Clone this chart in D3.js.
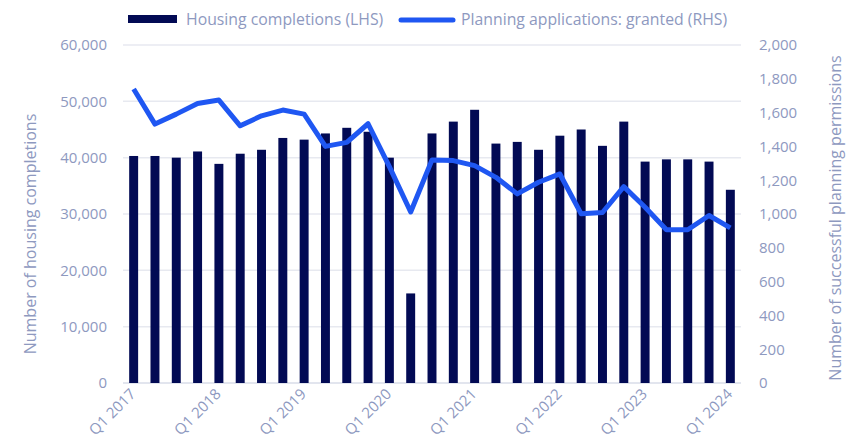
<!DOCTYPE html>
<html>
<head>
<meta charset="utf-8">
<script src="https://cdn.jsdelivr.net/npm/d3@7"></script>
<style>
  body { margin: 0; background: #fff; }
  text { font-family: "Open Sans", sans-serif; fill: #8e99bf; }
</style>
</head>
<body>
<div class="chart"></div>
<script>
var svgWidth = 850;
var svgHeight = 446;

var margin = { top: 45, right: 109, bottom: 63, left: 123 };
var width = svgWidth - margin.left - margin.right;
var height = svgHeight - margin.top - margin.bottom;

// quarters Q1 2017 .. Q1 2024
var quarters = [
    "Q1 2017", "Q2 2017", "Q3 2017", "Q4 2017",
    "Q1 2018", "Q2 2018", "Q3 2018", "Q4 2018",
    "Q1 2019", "Q2 2019", "Q3 2019", "Q4 2019",
    "Q1 2020", "Q2 2020", "Q3 2020", "Q4 2020",
    "Q1 2021", "Q2 2021", "Q3 2021", "Q4 2021",
    "Q1 2022", "Q2 2022", "Q3 2022", "Q4 2022",
    "Q1 2023", "Q2 2023", "Q3 2023", "Q4 2023",
    "Q1 2024"
];

var completions = [
    40300, 40300, 40000, 41100, 38900, 40700, 41400, 43500,
    43200, 44300, 45300, 44600, 40000, 15900, 44300, 46400,
    48500, 42500, 42800, 41400, 43900, 45000, 42100, 46400,
    39300, 39700, 39700, 39300, 34300
];

var granted = [
    1740, 1532, 1591, 1654, 1674, 1522, 1581, 1615,
    1591, 1400, 1424, 1534, 1280, 1012, 1320, 1316,
    1286, 1217, 1119, 1188, 1237, 1001, 1009, 1162,
    1040, 907, 907, 991, 918
];

var leftTicks = [0, 10000, 20000, 30000, 40000, 50000, 60000];
var rightTicks = [0, 200, 400, 600, 800, 1000, 1200, 1400, 1600, 1800, 2000];
var xTicks = ["Q1 2017", "Q1 2018", "Q1 2019", "Q1 2020", "Q1 2021", "Q1 2022", "Q1 2023", "Q1 2024"];

var svg = d3.select(".chart")
    .append("svg")
    .attr("width", svgWidth)
    .attr("height", svgHeight);

var chartGroup = svg.append("g")
    .attr("transform", `translate(${margin.left}, ${margin.top})`);

var xScale = d3.scaleBand()
    .domain(quarters)
    .range([0, width])
    .paddingInner(0.58)
    .paddingOuter(0.29);

var yLeft = d3.scaleLinear().domain([0, 60000]).range([height, 0]);
var yRight = d3.scaleLinear().domain([0, 2000]).range([height, 0]);

// gridlines
chartGroup.append("g")
    .selectAll("line")
    .data(leftTicks)
    .enter()
    .append("line")
    .attr("x1", 0)
    .attr("x2", width)
    .attr("y1", d => yLeft(d))
    .attr("y2", d => yLeft(d))
    .attr("stroke", d => d === 0 ? "#d9dce8" : "#e7e9f0")
    .attr("stroke-width", 1.5);

// axes
var leftAxis = d3.axisLeft(yLeft)
    .tickValues(leftTicks)
    .tickSize(0)
    .tickPadding(16)
    .tickFormat(d3.format(","));

var rightAxis = d3.axisRight(yRight)
    .tickValues(rightTicks)
    .tickSize(0)
    .tickPadding(18)
    .tickFormat(d3.format(","));

var bottomAxis = d3.axisBottom(xScale)
    .tickValues(xTicks)
    .tickSize(0)
    .tickPadding(0);

var gl = chartGroup.append("g").call(leftAxis);
var gr = chartGroup.append("g").attr("transform", `translate(${width}, 0)`).call(rightAxis);
var gb = chartGroup.append("g").attr("transform", `translate(0, ${height})`).call(bottomAxis);

[gl, gr, gb].forEach(function(g) {
    g.select(".domain").remove();
    g.selectAll("text")
        .style("font-family", "Open Sans, sans-serif")
        .style("font-size", "15px")
        .attr("fill", "#8e99bf");
});

gb.selectAll("text")
    .attr("text-anchor", "end")
    .attr("dy", "0")
    .attr("transform", "translate(3, 12) rotate(-45)");

// bars
chartGroup.selectAll("rect.bar")
    .data(completions)
    .enter()
    .append("rect")
    .attr("class", "bar")
    .attr("x", (d, i) => xScale(quarters[i]))
    .attr("width", xScale.bandwidth())
    .attr("y", d => yLeft(d))
    .attr("height", d => height - yLeft(d))
    .attr("fill", "#020a54");

// line
var line = d3.line()
    .x((d, i) => xScale(quarters[i]) + xScale.bandwidth() / 2)
    .y(d => yRight(d));

chartGroup.append("path")
    .datum(granted)
    .attr("d", line)
    .attr("fill", "none")
    .attr("stroke", "#1f57f2")
    .attr("stroke-width", 5)
    .attr("stroke-linejoin", "round");

// axis titles
svg.append("text")
    .attr("transform", "translate(36, 234) rotate(-90)")
    .attr("text-anchor", "middle")
    .style("font-size", "16px")
    .text("Number of housing completions");

svg.append("text")
    .attr("transform", "translate(841, 218) rotate(-90)")
    .attr("text-anchor", "middle")
    .style("font-size", "16px")
    .text("Number of successful planning permissions");

// legend
var legend = svg.append("g");
legend.append("rect")
    .attr("x", 128).attr("y", 15)
    .attr("width", 49).attr("height", 8)
    .attr("fill", "#020a54");
legend.append("text")
    .attr("x", 186).attr("y", 25)
    .style("font-size", "15.8px")
    .text("Housing completions (LHS)");
legend.append("line")
    .attr("x1", 401).attr("x2", 453)
    .attr("y1", 20).attr("y2", 20)
    .attr("stroke", "#1f57f2")
    .attr("stroke-width", 5)
    .attr("stroke-linecap", "round");
legend.append("text")
    .attr("x", 461).attr("y", 25)
    .style("font-size", "15.8px")
    .text("Planning applications: granted (RHS)");
</script>
</body>
</html>
